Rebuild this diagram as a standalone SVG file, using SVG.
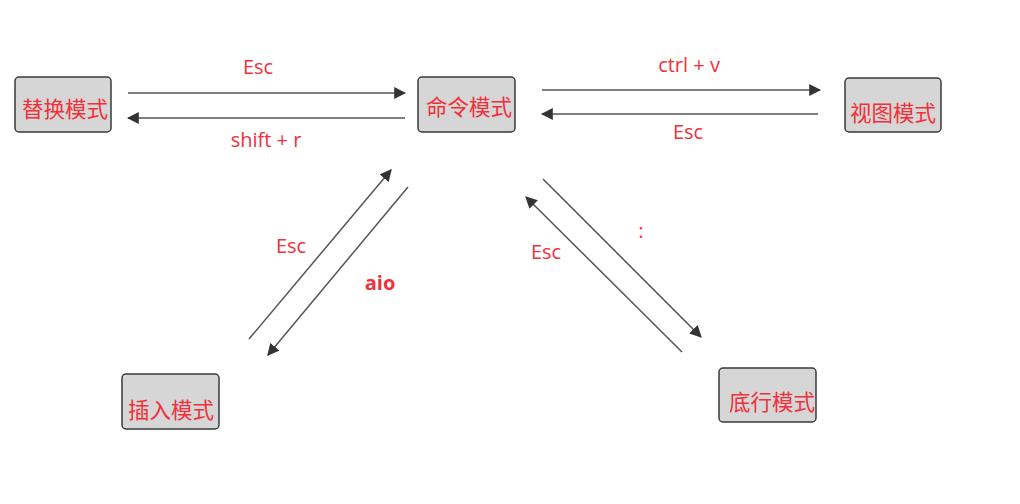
<svg xmlns="http://www.w3.org/2000/svg" width="1020" height="504" viewBox="0 0 1020 504">
<style>
.box{fill:#d6d6d6;stroke:#3a3a3a;stroke-width:1.5}
.nt{font-family:"Noto Sans CJK SC","Noto Sans",sans-serif;font-size:21.5px;fill:#f0303a}
.lb{font-family:"Open Sans","Liberation Sans",sans-serif;font-size:20px;fill:#f0303a;text-anchor:middle}
.ln{stroke:#555;stroke-width:1.5;fill:none;marker-end:url(#ah)}
</style>
<defs>
<marker id="ah" viewBox="0 0 10 10" refX="9" refY="5" markerWidth="8" markerHeight="8" orient="auto" markerUnits="strokeWidth">
<path d="M0,0 L10,5 L0,10 Z" fill="#333"/>
</marker>
</defs>
<rect width="1020" height="504" fill="#fff"/>
<g id="replace"><rect class="box" x="15" y="77" width="96" height="55" rx="4"/><text class="nt" x="22" y="117">替换模式</text></g>
<g id="command"><rect class="box" x="418" y="77" width="97" height="55" rx="4"/><text class="nt" x="426" y="115">命令模式</text></g>
<g id="visual"><rect class="box" x="845" y="78" width="96" height="54" rx="4"/><text class="nt" x="850" y="121">视图模式</text></g>
<g id="insert"><rect class="box" x="122" y="374" width="97" height="55" rx="4"/><text class="nt" x="128" y="418">插入模式</text></g>
<g id="lastline"><rect class="box" x="719" y="368" width="97" height="54" rx="4"/><text class="nt" x="729" y="410">底行模式</text></g>
<g id="connectors">
<line class="ln" x1="128" y1="93" x2="405" y2="93"/>
<line class="ln" x1="405" y1="118" x2="128" y2="118"/>
<line class="ln" x1="542" y1="90" x2="820" y2="90"/>
<line class="ln" x1="818" y1="114" x2="542" y2="114"/>
<line class="ln" x1="249" y1="339" x2="391" y2="170"/>
<line class="ln" x1="408" y1="187" x2="268" y2="355"/>
<line class="ln" x1="543" y1="179" x2="701" y2="337"/>
<line class="ln" x1="682" y1="352" x2="526" y2="197"/>
<text class="lb" x="258" y="74">Esc</text>
<text class="lb" x="266" y="147">shift + r</text>
<text class="lb" x="689" y="72">ctrl + v</text>
<text class="lb" x="688" y="139">Esc</text>
<text class="lb" x="291" y="253">Esc</text>
<text class="lb" x="380" y="290" font-weight="bold">aio</text>
<text class="lb" x="546" y="259">Esc</text>
<text class="lb" x="641" y="238">:</text>
</g>
</svg>
